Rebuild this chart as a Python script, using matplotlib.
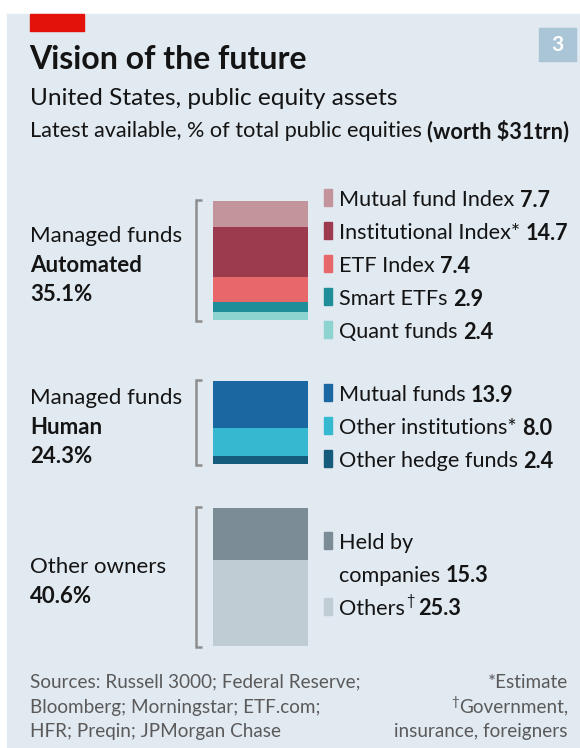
import matplotlib
matplotlib.use("Agg")
import matplotlib.pyplot as plt
from matplotlib.patches import Rectangle

plt.rcParams['font.family'] = ['Lato', 'DejaVu Sans']

# data
auto_labels = ["Mutual fund Index", "Institutional Index*", "ETF Index", "Smart ETFs", "Quant funds"]
auto_values = [7.7, 14.7, 7.4, 2.9, 2.4]
human_labels = ["Mutual funds", "Other institutions*", "Other hedge funds"]
human_values = [13.9, 8.0, 2.4]
other_labels = ["Held by\ncompanies", "Others\u2020"]
other_values = [15.3, 25.3]
group_titles = [["Managed funds", "Automated"], ["Managed funds", "Human"], ["Other owners"]]
group_totals = [35.1, 24.3, 40.6]

# styles
auto_colors = ["#c4949d", "#9b3b4d", "#e8676a", "#1f8e99", "#8dd3cf"]
human_colors = ["#1b67a1", "#35b9d1", "#155b7b"]
other_colors = ["#7b8c96", "#c0ccd4"]
BG = "#e1e9f1"
INK = "#141414"
W, H = 580, 748
PX = 3.40          # pixels per percentage point
BAR_TOP = 201
GAPS = [17.9, 13.1]  # gap between groups, in % units
LAB = 15.6
DY = 2.5             # nudge so va="center" text sits like the original
LEG_SHIFT = [3, 3, -4]

fig = plt.figure(figsize=(W / 100, H / 100), dpi=100)
fig.patch.set_facecolor("white")
ax = fig.add_axes([0, 0, 1, 1])
ax.set_xlim(0, W)
ax.set_ylim(H, 0)
ax.axis("off")
ax.add_patch(Rectangle((7, 14), W - 7, H - 14, color=BG, zorder=0))
ax.add_patch(Rectangle((30, 14), 54, 17, color="#e3120b", zorder=1))
ax.add_patch(Rectangle((539, 28), 37, 33, color="#a9c5d6", zorder=1))
ax.text(557.5, 45, "3", color="white", fontsize=15, fontweight="bold", ha="center", va="center")

renderer = fig.canvas.get_renderer()


def text_pair(x, y, normal, bold, size, color=INK):
    t = ax.text(x, y, normal, fontsize=size, color=color, va="center", ha="left")
    bb = t.get_window_extent(renderer=renderer)
    x2 = ax.transData.inverted().transform((bb.x1, bb.y0))[0]
    ax.text(x2, y, bold, fontsize=size, color=color, va="center", ha="left", fontweight="bold")


# header
ax.text(29, 59, "Vision of the future", fontsize=23, fontweight="bold", color=INK, va="center")
ax.text(30, 98, "United States, public equity assets", fontsize=17.6, color=INK, va="center")
text_pair(30, 131, "Latest available, % of total public equities ", "(worth $31trn)", 15.6)

# bars
groups = [(auto_labels, auto_values, auto_colors),
          (human_labels, human_values, human_colors),
          (other_labels, other_values, other_colors)]
starts = []
pos = 0.0
for i, (labs, vals, cols) in enumerate(groups):
    starts.append(pos)
    pos += sum(vals)
    if i < len(GAPS):
        pos += GAPS[i]
total = pos

bx = fig.add_axes([213 / W, 1 - (BAR_TOP + total * PX) / H, 95 / W, total * PX / H])
bx.set_xlim(0, 1)
bx.set_ylim(total, 0)
bx.axis("off")
for (labs, vals, cols), s in zip(groups, starts):
    bottom = s
    for v, c in zip(vals, cols):
        bx.bar(0.5, v, width=1.0, bottom=bottom, color=c, linewidth=0)
        bottom += v

# brackets, group titles and legend labels
for gi, ((labs, vals, cols), s) in enumerate(zip(groups, starts)):
    top = BAR_TOP + s * PX
    bot = top + sum(vals) * PX
    mid = (top + bot) / 2
    ax.plot([202, 196, 196, 202], [top - 1, top - 1, bot + 1, bot + 1],
            color="#8e8e8e", lw=1.8, solid_capstyle="butt", solid_joinstyle="miter")

    lines = group_titles[gi] + ["%.1f%%" % group_totals[gi]]
    ly = mid + 2 - (len(lines) - 1) * 29 / 2
    for k, ln in enumerate(lines):
        ax.text(30, ly + k * 29 + DY, ln, fontsize=16, color=INK, va="center",
                fontweight="normal" if k == 0 else "bold")

    n_lines = sum(l.count("\n") + 1 for l in labs)
    step = 33
    y = mid + LEG_SHIFT[gi] - (n_lines - 1) * step / 2
    for lab, v, c in zip(labs, vals, cols):
        ax.add_patch(Rectangle((324, y - 8.5), 8, 17, color=c, zorder=2))
        parts = lab.split("\n")
        for p in parts[:-1]:
            ax.text(339, y + DY, p, fontsize=LAB, color=INK, va="center")
            y += step
        last = parts[-1]
        if last.endswith("\u2020"):
            t = ax.text(339, y + DY, last[:-1], fontsize=LAB, color=INK, va="center")
            bb = t.get_window_extent(renderer=renderer)
            xd = ax.transData.inverted().transform((bb.x1, bb.y0))[0]
            t2 = ax.text(xd + 1, y - 5, "\u2020", fontsize=10.5, color=INK, va="center")
            bb2 = t2.get_window_extent(renderer=renderer)
            xd2 = ax.transData.inverted().transform((bb2.x1, bb2.y0))[0]
            ax.text(xd2 + 4, y + DY, "%.1f" % v, fontsize=LAB, color=INK, va="center", fontweight="bold")
        else:
            text_pair(339, y + DY, last + " ", "%.1f" % v, LAB)
        y += step

# footer
GREY = "#5a5a5a"
FS = 13.6
src = ["Sources: Russell 3000; Federal Reserve;", "Bloomberg; Morningstar; ETF.com;",
       "HFR; Preqin; JPMorgan Chase"]
for k, s in enumerate(src):
    ax.text(30, 682 + k * 25, s, fontsize=FS, color=GREY, va="center")
ax.text(568, 682, "*Estimate", fontsize=FS, color=GREY, va="center", ha="right")
t = ax.text(568, 707, "Government,", fontsize=FS, color=GREY, va="center", ha="right")
bb = t.get_window_extent(renderer=renderer)
xd = ax.transData.inverted().transform((bb.x0, bb.y0))[0]
ax.text(xd, 702, "\u2020", fontsize=9.5, color=GREY, va="center", ha="right")
ax.text(568, 732, "insurance, foreigners", fontsize=FS, color=GREY, va="center", ha="right")

fig.savefig("out.png", dpi=100, facecolor=fig.get_facecolor())
